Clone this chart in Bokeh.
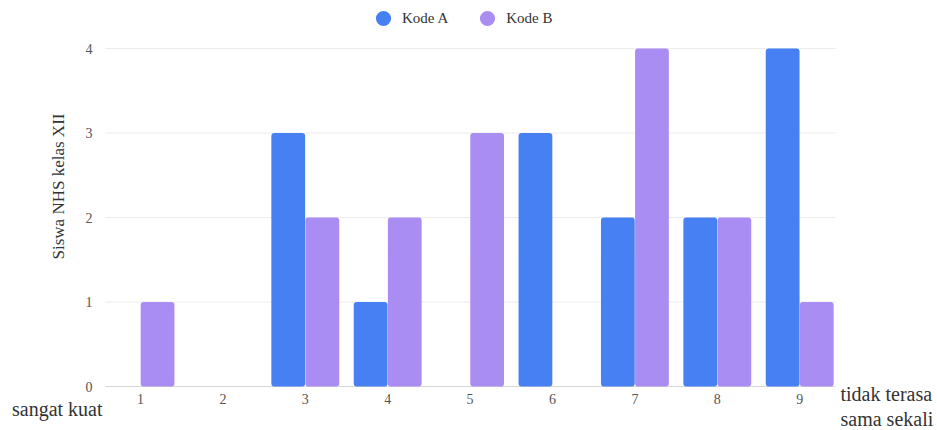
import math
from bokeh.plotting import figure
from bokeh.models import Range1d, Legend, LegendItem
from bokeh.core.properties import value
from bokeh.embed import file_html
from bokeh.resources import INLINE

categories = [1, 2, 3, 4, 5, 6, 7, 8, 9]
kode_a = [0, 0, 3, 1, 0, 3, 2, 2, 4]
kode_b = [1, 0, 2, 2, 3, 0, 4, 2, 1]
y_ticks = [0, 1, 2, 3, 4]
series_names = ["Kode A", "Kode B"]
y_label = "Siswa NHS kelas XII"
left_note = "sangat kuat"
right_note = ["tidak terasa", "sama sekali"]

BLUE = "#4680F2"
PURPLE = "#AA8DF2"
FONT = value("Liberation Serif")

W, H = 937, 430
# pixel layout of the chart area inside the canvas
PX_LEFT, PX_RIGHT = 105, 835      # gridline extent
PX_CAT1, PX_STEP = 140, 82.4      # centre of first category and spacing
PX_Y0, PX_YTOP = 386, 48          # pixel rows of value 0 and of the top tick
PX_YLABEL = 186                   # centre row of the y-axis title
y_top = y_ticks[-1]
ppu = (PX_Y0 - PX_YTOP) / y_top

x_start = 1 - PX_CAT1 / PX_STEP
x_end = 1 + (W - PX_CAT1) / PX_STEP
y_start = -(H - PX_Y0) / ppu
y_end = y_top + PX_YTOP / ppu
x_left = 1 + (PX_LEFT - PX_CAT1) / PX_STEP
x_right = 1 + (PX_RIGHT - PX_CAT1) / PX_STEP

p = figure(width=W, height=H, output_backend="svg", toolbar_location=None,
           x_range=Range1d(x_start, x_end), y_range=Range1d(y_start, y_end),
           min_border=0)
p.axis.visible = False
p.grid.visible = False
p.outline_line_color = None
p.background_fill_color = "white"

# horizontal grid lines at the value ticks
grid_colors = ["#D6D6D6"] + ["#EBEBEB"] * (len(y_ticks) - 1)
p.segment(x0=[x_left] * len(y_ticks), x1=[x_right] * len(y_ticks),
          y0=y_ticks, y1=y_ticks, line_color=grid_colors, line_width=1)

off = 0.207
w = 0.41
xa = [c - off for c in categories]
xb = [c + off for c in categories]
p.vbar(x=xa, top=kode_a, width=w, fill_color=BLUE, line_color=None, border_radius=3)
p.vbar(x=xb, top=kode_b, width=w, fill_color=PURPLE, line_color=None, border_radius=3)

# tick labels
p.text(x=[x_left] * len(y_ticks), y=y_ticks, text=[str(t) for t in y_ticks],
       x_offset=-13, text_align="right", text_baseline="middle",
       text_font=FONT, text_font_size="14px", text_color="#555555")
p.text(x=categories, y=[0] * len(categories), text=[str(c) for c in categories],
       y_offset=12, text_align="center", text_baseline="middle",
       text_font=FONT, text_font_size="14px", text_color="#555555")

# y-axis title
y_label_pos = (PX_Y0 - PX_YLABEL) / ppu
p.text(x=[x_left], y=[y_label_pos], text=[y_label], angle=math.pi / 2,
       x_offset=-47, text_align="center", text_baseline="middle",
       text_font=FONT, text_font_size="17px", text_color="#333333")

# end notes
p.text(x=[x_left], y=[0], text=[left_note], x_offset=-3, y_offset=22,
       text_align="right", text_baseline="middle",
       text_font=FONT, text_font_size="20px", text_color="#333333")
p.text(x=[x_right, x_right], y=[0, 0], text=right_note, x_offset=5, y_offset=[7, 32],
       text_align="left", text_baseline="middle",
       text_font=FONT, text_font_size="20px", text_color="#333333")

# legend with circle swatches (proxy points lie outside the visible range)
hidden_x = [x_start - 5]
hidden_y = [y_start - 5]
la = p.scatter(x=hidden_x, y=hidden_y, marker="circle", fill_color=BLUE, line_color=None, size=15)
lb = p.scatter(x=hidden_x, y=hidden_y, marker="circle", fill_color=PURPLE, line_color=None, size=15)
legend = Legend(items=[LegendItem(label=series_names[0], renderers=[la]),
                       LegendItem(label=series_names[1], renderers=[lb])],
                orientation="horizontal", location=(364, 393),
                glyph_width=38, glyph_height=38, padding=0, spacing=20, margin=0,
                label_standoff=0, border_line_color=None, background_fill_alpha=0,
                label_text_font="Liberation Serif", label_text_font_size="15px",
                label_text_color="#333333")
p.add_layout(legend, "center")

open("out.html", "w").write(file_html(p, INLINE))
